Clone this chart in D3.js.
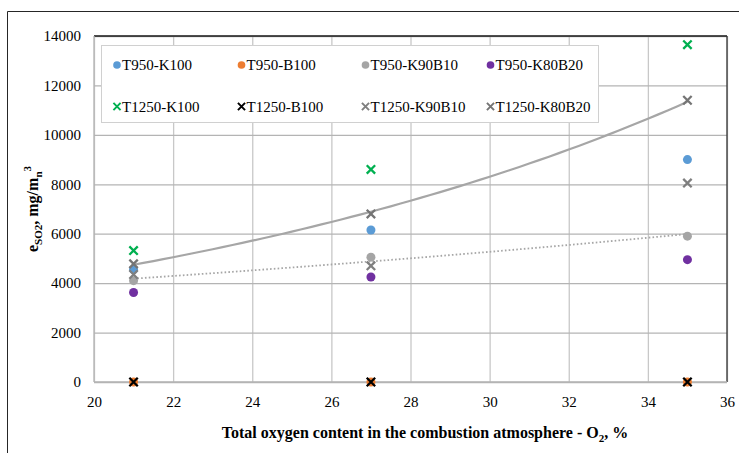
<!DOCTYPE html>
<html><head><meta charset="utf-8">
<script src="https://cdn.jsdelivr.net/npm/d3@7"></script>
<style>body{margin:0;background:#fff}svg{display:block}text{font-family:"Liberation Serif","Times New Roman",serif}</style>
</head><body><svg id="c" width="739" height="453"></svg>
<script>
const oxygen = [21, 27, 35];
const seriesNames = ["T950-K100","T950-B100","T950-K90B10","T950-K80B20","T1250-K100","T1250-B100","T1250-K90B10","T1250-K80B20"];
const seriesColors = ["#5b9bd5","#ed7d31","#a5a5a5","#7030a0","#00b050","#000000","#7f7f7f","#757575"];
const seriesShapes = ["circle","circle","circle","circle","cross","cross","cross","cross"];
const T950_K100 = [4550, 6150, 9000];
const T950_B100 = [0, 0, 0];
const T950_K90B10 = [4100, 5050, 5900];
const T950_K80B20 = [3620, 4250, 4950];
const T1250_K100 = [5320, 8600, 13650];
const T1250_B100 = [0, 0, 0];
const T1250_K90B10 = [4350, 4700, 8050];
const T1250_K80B20 = [4780, 6800, 11400];
const seriesValues = [T950_K100,T950_B100,T950_K90B10,T950_K80B20,T1250_K100,T1250_B100,T1250_K90B10,T1250_K80B20];
const xTicks = [20,22,24,26,28,30,32,34,36];
const yTicks = [0,2000,4000,6000,8000,10000,12000,14000];

const svg = d3.select("#c");
const L=94,R=727,T=36,B=382;
const x = d3.scaleLinear().domain([20,36]).range([L,R]);
const y = d3.scaleLinear().domain([0,14000]).range([B,T]);

// outer chart border
svg.append("path").attr("d","M7.5,453 V11.5 H739").attr("fill","none").attr("stroke","#262626").attr("stroke-width",1);

// gridlines
const gx = svg.append("g").attr("transform",`translate(0,${B})`)
  .call(d3.axisBottom(x).tickValues(xTicks).tickSize(-(B-T)).tickFormat(d=>d).tickPadding(14));
gx.select(".domain").remove();
gx.selectAll("line").attr("stroke","#c8c8c8").attr("stroke-width",1.3);
gx.selectAll("text").attr("font-size",15).attr("fill","#000");
const gy = svg.append("g").attr("transform",`translate(${L},0)`)
  .call(d3.axisLeft(y).tickValues(yTicks).tickSize(-(R-L)).tickFormat(d=>d).tickPadding(13));
gy.select(".domain").remove();
gy.selectAll("line").attr("stroke","#b4b4b4").attr("stroke-width",1.3);
gy.selectAll("text").attr("font-size",15).attr("fill","#000");

// plot frame
svg.append("line").attr("x1",L).attr("x2",R).attr("y1",T).attr("y2",T).attr("stroke","#1a1a1a").attr("stroke-width",1.5);
svg.append("line").attr("x1",R).attr("x2",R).attr("y1",T).attr("y2",B).attr("stroke","#333").attr("stroke-width",1.3);
svg.append("line").attr("x1",L).attr("x2",L).attr("y1",T).attr("y2",B).attr("stroke","#b4b4b4").attr("stroke-width",1.3);
svg.append("line").attr("x1",L).attr("x2",R).attr("y1",B).attr("y2",B).attr("stroke","#b4b4b4").attr("stroke-width",1.5);

// exponential trendlines (least squares on ln y)
function expFit(xs, ys){
  const lx = xs, ly = ys.map(Math.log);
  const mx = d3.mean(lx), my = d3.mean(ly);
  const b = d3.sum(lx.map((v,i)=>(v-mx)*(ly[i]-my)))/d3.sum(lx.map(v=>(v-mx)*(v-mx)));
  const a = my - b*mx;
  return t => Math.exp(a + b*t);
}
const line = d3.line().x(d=>x(d[0])).y(d=>y(d[1]));
const fitSolid = expFit(oxygen, T1250_K80B20);
const fitDot = expFit(oxygen, T950_K90B10);
const samp = d3.range(21, 35.001, 0.25);
svg.append("path").attr("d", line(samp.map(t=>[t,fitDot(t)]))).attr("fill","none")
  .attr("stroke","#a6a6a6").attr("stroke-width",1.8).attr("stroke-dasharray","1.6,2.2");
svg.append("path").attr("d", line(samp.map(t=>[t,fitSolid(t)]))).attr("fill","none")
  .attr("stroke","#a6a6a6").attr("stroke-width",2.2);

function drawMarker(g, shape, color, cx, cy, s){
  if(shape==="circle"){
    g.append("circle").attr("cx",cx).attr("cy",cy).attr("r",4.5*s).attr("fill",color);
  } else {
    const h=4.2*s;
    g.append("path").attr("d",`M${cx-h},${cy-h}L${cx+h},${cy+h}M${cx-h},${cy+h}L${cx+h},${cy-h}`)
      .attr("stroke",color).attr("stroke-width",2.3*s).attr("fill","none");
  }
}
const mk = svg.append("g");
seriesValues.forEach((vals,si)=>{
  vals.forEach((v,i)=>drawMarker(mk, seriesShapes[si], seriesColors[si], x(oxygen[i]), y(v), 1));
});

// legend
const lg = svg.append("g");
lg.append("rect").attr("x",101.5).attr("y",45.5).attr("width",497).attr("height",77)
  .attr("fill","#fff").attr("stroke","#d0d0d0").attr("stroke-width",1);
const colX = [117, 241.5, 365.5, 490.5];
const rowY = [65, 106.5];
seriesNames.forEach((n,i)=>{
  const cx = colX[i%4], cy = rowY[Math.floor(i/4)];
  drawMarker(lg, seriesShapes[i], seriesColors[i], cx, cy, 0.85);
  lg.append("text").attr("x",cx+5).attr("y",cy+5).attr("font-size",15).attr("fill","#000").text(n);
});

// axis titles
svg.append("text").attr("x",425).attr("y",438).attr("text-anchor","middle").attr("font-size",16)
  .attr("font-weight","bold").html('Total oxygen content in the combustion atmosphere - O<tspan font-size="11" dy="4">2</tspan><tspan dy="-4">, %</tspan>');
svg.append("text").attr("transform","translate(38,209) rotate(-90)").attr("text-anchor","middle")
  .attr("font-size",16).attr("font-weight","bold")
  .html('e<tspan font-size="11" dy="4">SO2</tspan><tspan dy="-4">, mg/m</tspan><tspan font-size="11" dy="4">n</tspan><tspan font-size="11" dy="-11">3</tspan>');
</script></body></html>
